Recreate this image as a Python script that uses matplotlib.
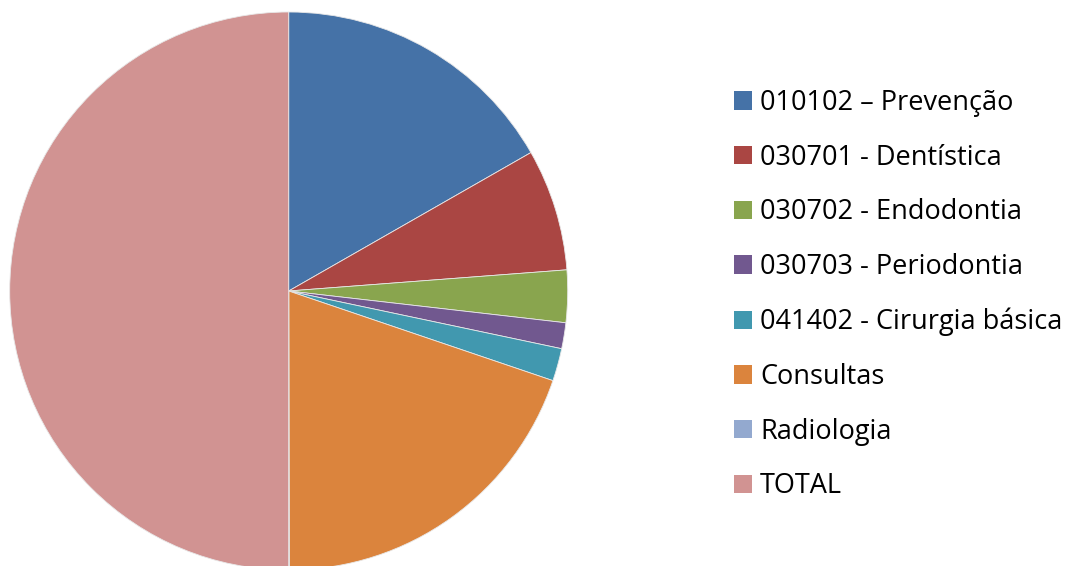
import matplotlib.pyplot as plt
from matplotlib.patches import Patch

# valeurs (en %)
categorias = ["010102 – Prevenção", "030701 - Dentística", "030702 - Endodontia",
              "030703 - Periodontia", "041402 - Cirurgia básica", "Consultas",
              "Radiologia", "TOTAL"]
valores = [16.75, 7.06, 3.03, 1.50, 1.89, 19.78, 0.03]
valores = valores + [sum(valores)]
cores = ["#4572A7", "#AA4643", "#89A54E", "#71588F", "#4198AF", "#DB843D",
         "#93A9CF", "#D19392"]

W, H = 1073, 566
fig = plt.figure(figsize=(W / 100, H / 100), dpi=100)
cx, cy, r = 288.7, 291, 279
ax = fig.add_axes([(cx - r) / W, (H - cy - r) / H, 2 * r / W, 2 * r / H])
ax.pie(valores, colors=cores, startangle=90, counterclock=False, radius=1,
       wedgeprops=dict(edgecolor="#e8e8e8", linewidth=0.6))
ax.set_xlim(-1, 1)
ax.set_ylim(-1, 1)
ax.set_aspect("equal")
ax.axis("off")

handles = [Patch(facecolor=c, edgecolor="none") for c in cores]
fig.legend(handles, categorias, loc="upper left", bbox_to_anchor=(734 / W, 1 - 89 / H),
           frameon=False, prop={"family": "Open Sans", "size": 19.5},
           handlelength=0.66, handleheight=0.66, handletextpad=0.3,
           labelspacing=0.985, borderpad=0, borderaxespad=0)

fig.savefig("out.png", dpi=100)
